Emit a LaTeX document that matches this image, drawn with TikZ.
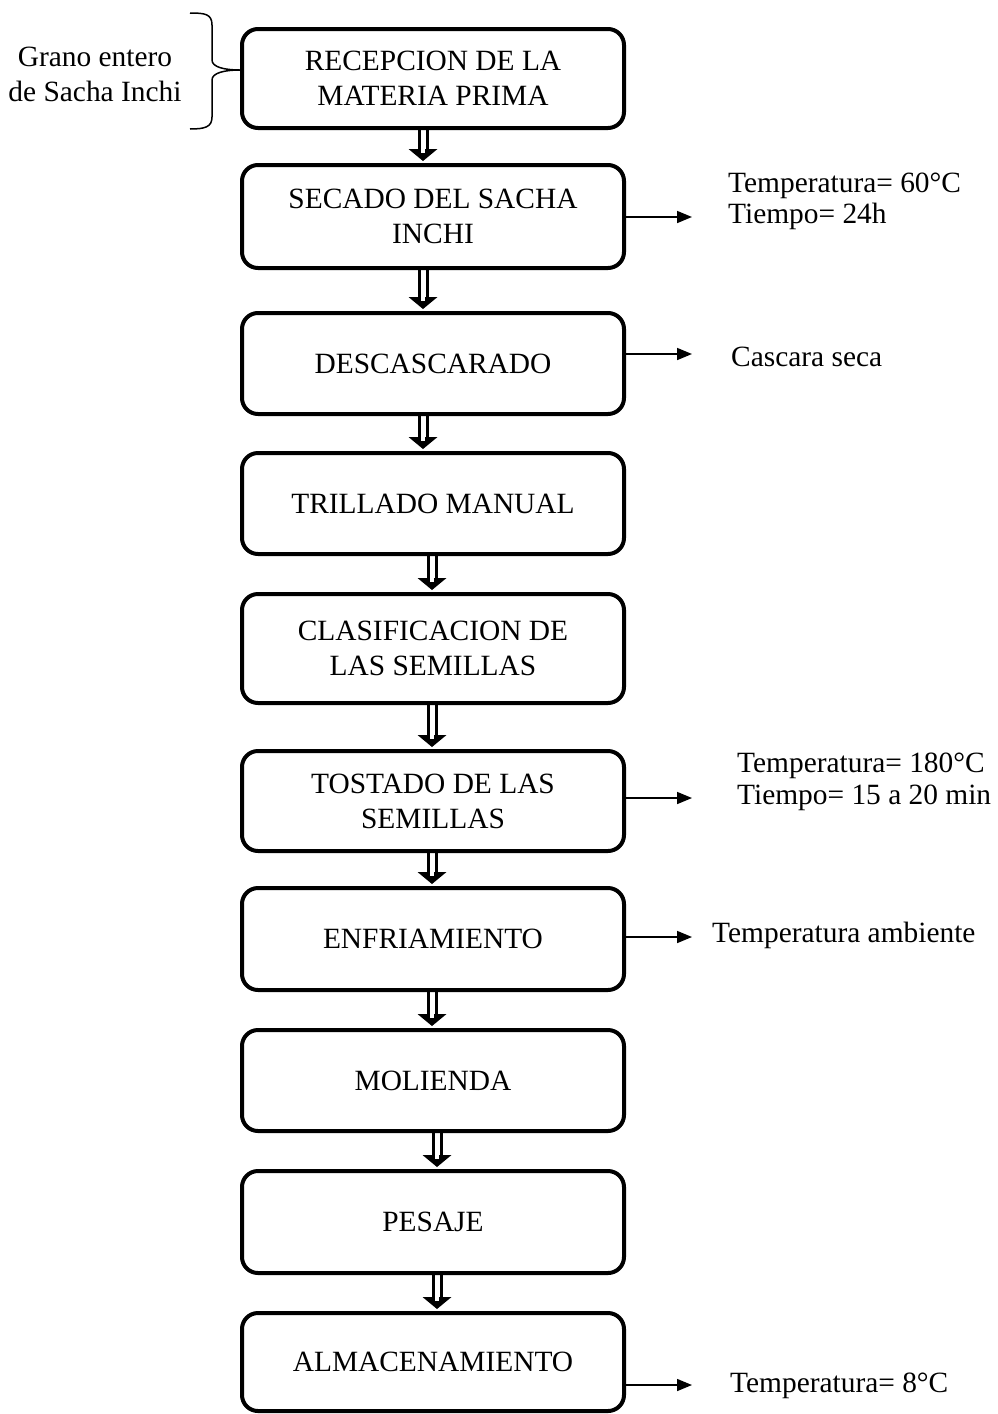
\documentclass[tikz,border=0pt]{standalone}
\usepackage{fontspec}
\setmainfont{Liberation Serif}
\usetikzlibrary{arrows.meta,calc}
\newcommand\dblarr[3]{%
  \coordinate (s) at ([xshift=#3pt]#1.south);
  \coordinate (e) at ([xshift=#3pt,yshift=2pt]#2.north);
  \draw[shaftline] ([xshift=-4pt]s) -- ([xshift=-4pt,yshift=11pt]e);
  \draw[shaftline] ([xshift=4pt]s) -- ([xshift=4pt,yshift=11pt]e);
  \fill ([xshift=-14.5pt,yshift=12pt]e) -- ([xshift=14.5pt,yshift=12pt]e) -- (e) -- cycle;
  \draw[white,line width=4pt] ([yshift=12.5pt]e) -- ([yshift=8pt]e);
}
\begin{document}
\begin{tikzpicture}[x=1pt,y=-1pt,
  box/.style={draw, line width=4pt, rounded corners=16pt, minimum width=382pt,
    align=center, inner sep=0pt, font=\fontsize{29.4}{35}\selectfont},
  side/.style={line width=1.6pt, -{Triangle[length=15pt,width=12pt]}},
  shaftline/.style={line width=3pt},
  lbl/.style={anchor=west, align=left, inner sep=0pt, font=\fontsize{29.4}{31}\selectfont}]
\useasboundingbox (0,0) rectangle (998,1414);

\node[box, minimum height=99pt]  (b1)  at (433,78.5) {RECEPCION DE LA\\MATERIA PRIMA};
\node[box, minimum height=103pt] (b2)  at (433,216.5) {SECADO DEL SACHA\\INCHI};
\node[box, minimum height=101pt] (b3)  at (433,363.5) {DESCASCARADO};
\node[box, minimum height=101pt] (b4)  at (433,503.5) {TRILLADO MANUAL};
\node[box, minimum height=109pt] (b5)  at (433,648.5) {CLASIFICACION DE\\LAS SEMILLAS};
\node[box, minimum height=100pt] (b6)  at (433,801) {TOSTADO DE LAS\\SEMILLAS};
\node[box, minimum height=102pt] (b7)  at (433,939) {ENFRIAMIENTO};
\node[box, minimum height=101pt] (b8)  at (433,1080.5) {MOLIENDA};
\node[box, minimum height=102pt] (b9)  at (433,1222) {PESAJE};
\node[box, minimum height=98pt]  (b10) at (433,1362) {ALMACENAMIENTO};

\dblarr{b1}{b2}{-10}
\dblarr{b2}{b3}{-10}
\dblarr{b3}{b4}{-10}
\dblarr{b4}{b5}{-1}
\dblarr{b5}{b6}{-1}
\dblarr{b6}{b7}{-1}
\dblarr{b7}{b8}{-1}
\dblarr{b8}{b9}{4}
\dblarr{b9}{b10}{4}

\coordinate (o2) at (692,217);
\coordinate (o3) at (692,354);
\coordinate (o6) at (692,798);
\coordinate (o7) at (692,937);
\coordinate (o10) at (692,1385);
\draw[side] (b2.east |- o2) -- (o2);
\draw[side] (b3.east |- o3) -- (o3);
\draw[side] (b6.east |- o6) -- (o6);
\draw[side] (b7.east |- o7) -- (o7);
\draw[side] (b10.east |- o10) -- (o10);

\node[lbl] (t2) at (728,201) {Temperatura= 60°C\\Tiempo= 24h};
\node[lbl] (t3) at (731,357) {Cascara seca};
\node[lbl, font=\fontsize{29.4}{32}\selectfont] (t6) at (737,782) {Temperatura= 180°C\\Tiempo= 15 a 20 min};
\node[lbl] (t7) at (712,935) {Temperatura ambiente};
\node[lbl] (t10) at (730,1386) {Temperatura= 8°C};

\node[align=center, inner sep=0pt, font=\fontsize{29.4}{35}\selectfont] (g) at (95,74) {Grano entero\\de Sacha Inchi};
\draw[line width=1.5pt] (190,13) .. controls (205,13) and (212,14) .. (212,25) -- (212,60)
  .. controls (212,67) and (224,70) .. (240,70)
  .. controls (224,70) and (212,73) .. (212,80) -- (212,117)
  .. controls (212,127) and (205,129) .. (190,129);
\end{tikzpicture}
\end{document}
